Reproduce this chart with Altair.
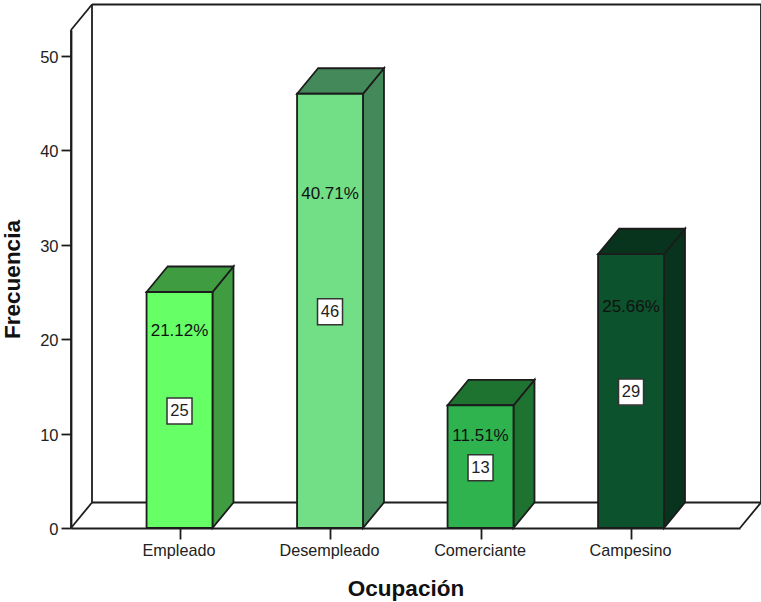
import altair as alt
import pandas as pd

# Occupation frequencies
categories = ["Empleado", "Desempleado", "Comerciante", "Campesino"]
counts = [25, 46, 13, 29]
percents = [21.12, 40.71, 11.51, 25.66]
front_colors = ["#66FF66", "#72DF86", "#2EB34E", "#0C522C"]
side_colors = ["#3F9C40", "#44895A", "#1F7330", "#08331C"]

# Heights (in frequency units) where the percentage captions sit
percent_levels = [20.87, 35.4, 9.75, 23.4]

# Pseudo-3D box: scale limits, bar half-width and depth offsets in data units
X_MIN, X_MAX = -0.721, 3.724
Y_MAX = 52.75
HALF = 0.219
DX, DY = 0.1395, 2.70
INK = "#1c1c1c"
LINE = 1.8

x_scale = alt.Scale(domain=[X_MIN, X_MAX], nice=False, zero=False)
y_scale = alt.Scale(domain=[0, Y_MAX], nice=False, zero=False)

label_expr = "[" + ",".join(f"'{c}'" for c in categories) + "][datum.value]"
x_axis = alt.Axis(
    title="Ocupación", values=[0, 1, 2, 3], labelExpr=label_expr, grid=False,
    domainColor=INK, domainWidth=LINE, tickColor=INK, tickWidth=LINE, tickSize=11,
    labelColor="#222222", labelFont="Liberation Sans", labelFontSize=16.2,
    labelPadding=3, labelOffset=-1, labelOverlap=False, labelFlush=False,
    titleFont="Liberation Sans", titleFontSize=22.5, titleFontWeight="bold",
    titleColor="#111111", titlePadding=19,
)
y_axis = alt.Axis(
    title="Frecuencia", values=[0, 10, 20, 30, 40, 50], grid=False,
    domainColor=INK, domainWidth=LINE, tickColor=INK, tickWidth=LINE, tickSize=10,
    labelColor="#222222", labelFont="Liberation Sans", labelFontSize=16.5,
    labelPadding=3, labelOffset=1.5, labelOverlap=False, labelFlush=False,
    titleFont="Liberation Sans", titleFontSize=22.5, titleFontWeight="bold",
    titleColor="#111111", titlePadding=15,
)


def qx(field="x"):
    return alt.X(f"{field}:Q", scale=x_scale, axis=x_axis)


def qy(field="y"):
    return alt.Y(f"{field}:Q", scale=y_scale, axis=y_axis)


# Walls and floor outline as straight segments
frame_segments = [
    (X_MIN + DX, DY, X_MIN + DX, Y_MAX + DY),
    (X_MIN + DX, Y_MAX + DY, X_MAX + DX, Y_MAX + DY),
    (X_MAX + DX, Y_MAX + DY, X_MAX + DX, DY),
    (X_MIN + DX, DY, X_MAX + DX, DY),
    (X_MIN, 0, X_MIN + DX, DY),
    (X_MAX, 0, X_MAX + DX, DY),
    (X_MIN, 0, X_MIN, Y_MAX),
    (X_MIN, Y_MAX, X_MIN + DX, Y_MAX + DY),
]
frame_df = pd.DataFrame(frame_segments, columns=["x", "y", "x2", "y2"])

frame = alt.Chart(frame_df).mark_rule(color=INK, strokeWidth=LINE).encode(
    x=qx(), y=qy(), x2="x2:Q", y2="y2:Q"
)

bars_df = pd.DataFrame({
    "cat": categories,
    "x": [i - HALF for i in range(4)],
    "x2": [i + HALF for i in range(4)],
    "y": counts,
    "y2": [0] * 4,
    "fill": front_colors,
    "center": list(range(4)),
    "mid": [c / 2 for c in counts],
    "count_text": [str(c) for c in counts],
    "pct_text": [f"{p:.2f}%" for p in percents],
    "pct_level": percent_levels,
})

front = alt.Chart(bars_df).mark_rect(stroke=INK, strokeWidth=LINE).encode(
    x=qx(), x2="x2:Q", y=qy(), y2="y2:Q",
    fill=alt.Fill("fill:N", scale=None),
)

# Right-hand faces: parallelograms swept from the front edge to the back edge
side_rows = []
top_rows = []
for i, (cat, value, shade) in enumerate(zip(categories, counts, side_colors)):
    right = i + HALF
    left = i - HALF
    side_rows.append({"cat": cat, "x": right, "y": value, "y2": 0, "fill": shade})
    side_rows.append({"cat": cat, "x": right + DX, "y": value + DY, "y2": DY, "fill": shade})
    top_rows.append({"cat": cat, "y": value, "x": left, "x2": right, "fill": shade})
    top_rows.append({"cat": cat, "y": value + DY, "x": left + DX, "x2": right + DX, "fill": shade})

side = alt.Chart(pd.DataFrame(side_rows)).mark_area(
    stroke=INK, strokeWidth=LINE, opacity=1
).encode(
    x=qx(), y=qy(), y2="y2:Q",
    fill=alt.Fill("fill:N", scale=None), detail="cat:N",
)

top = alt.Chart(pd.DataFrame(top_rows)).mark_area(
    orient="horizontal", stroke=INK, strokeWidth=LINE, opacity=1
).encode(
    y=qy(), x=qx(), x2="x2:Q",
    fill=alt.Fill("fill:N", scale=None), detail="cat:N",
)

count_box = alt.Chart(bars_df).mark_rect(
    width=25, height=26, fill="white", stroke="#333333", strokeWidth=1.5, yOffset=1
).encode(
    x=qx("center"),
    y=qy("mid"),
)

count_text = alt.Chart(bars_df).mark_text(
    font="Liberation Sans", fontSize=16.5, color="#222222", baseline="middle", align="center", dy=1
).encode(
    x=qx("center"),
    y=qy("mid"),
    text="count_text:N",
)

pct_text = alt.Chart(bars_df).mark_text(
    font="Liberation Sans", fontSize=17, color="#111111", baseline="middle", align="center"
).encode(
    x=qx("center"),
    y=qy("pct_level"),
    text="pct_text:N",
)

chart = alt.layer(
    frame, side, top, front, count_box, count_text, pct_text
).resolve_scale(x="shared", y="shared").properties(
    width=669,
    height=498,
    background="white",
    autosize=alt.AutoSizeParams(type="none"),
    padding={"left": 71, "top": 30, "right": 21, "bottom": 74},
).configure_view(stroke=None)

chart.save("out.html", embed_options={"renderer": "svg", "actions": False})
